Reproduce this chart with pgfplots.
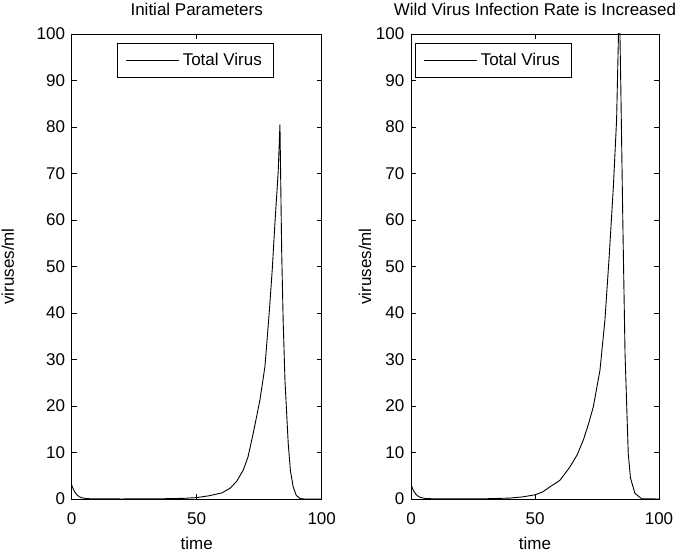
\documentclass[border=0pt]{standalone}
\usepackage{pgfplots}
\pgfplotsset{compat=1.18}
\usepackage{fontspec}
\setmainfont{Liberation Sans}
\begin{document}
\fontsize{17bp}{20bp}\selectfont
\begin{tikzpicture}
\useasboundingbox (0,0) rectangle (676bp,559bp);
\pgfplotsset{
  mstyle/.style={
    scale only axis,
    height=465bp,
    xmin=0, xmax=100, ymin=0, ymax=100,
    xtick={0,50,100}, ytick={0,10,...,100},
    tick align=inside,
    major tick length=5bp,
    axis line style={line width=0.8bp, black},
    every tick/.style={line width=0.8bp, black},
    /pgf/number format/assume math mode=true,
    tick label style={font=\fontsize{17bp}{20bp}\selectfont},
    xticklabel style={anchor=base, inner sep=0pt, yshift=-25bp},
    yticklabel style={anchor=east, inner sep=0pt, xshift=-6.5bp},
    title style={at={(0.5,1)}, anchor=base, inner sep=0pt, yshift=13bp, font=\fontsize{17bp}{20bp}\selectfont},
    xlabel style={at={(0.5,0)}, anchor=base, inner sep=0pt, yshift=-50bp, font=\fontsize{17bp}{20bp}\selectfont},
    ylabel style={at={(0,0.5)}, anchor=center, inner sep=0pt, font=\fontsize{17bp}{20bp}\selectfont},
    xlabel={time}, ylabel={viruses/ml},
    legend image code/.code={\draw[#1] (0bp,0bp) -- (53bp,0bp);},
    legend style={draw=black, line width=0.8bp, inner xsep=8.5bp, inner ysep=6.5bp,
      font=\fontsize{17bp}{20bp}\selectfont,
      nodes={inner sep=3bp}, anchor=north west},
    legend cell align=left,
  }
}
\begin{axis}[mstyle, at={(71.7bp,60bp)}, anchor=south west, width=250bp,
  title={Initial Parameters},
  ylabel style={yshift=64bp},
  legend style={at={(0.181,0.9806)}}]
\addplot[black, line width=0.9bp] coordinates {
(0,3.0) (0.5,2.3) (1,1.7) (2,0.95) (3,0.5) (4,0.27) (6,0.08) (10,0.02) (20,0.01)
(30,0.02) (40,0.08) (45,0.15) (50,0.3) (55,0.7) (60,1.3) (63.3,2.3) (66,3.8)
(68.6,6.2) (70.5,9.0) (72.6,14.1) (75.3,21.3) (77.3,28.5) (79,40) (80.2,49.2)
(81.3,59.4) (82.6,70.4) (83.3,80.5) (84,53) (84.6,38) (85.3,25.6) (86.6,12)
(87.5,6) (88.6,2.6) (89.8,0.8) (91.3,0.1) (93,0) (100,0)
};
\addlegendentry{Total Virus}
\end{axis}
\begin{axis}[mstyle, at={(411bp,60bp)}, anchor=south west, width=248bp,
  title={Wild Virus Infection Rate is Increased},
  ylabel style={yshift=46bp},
  legend style={at={(0.016,0.9806)}}]
\addplot[black, line width=0.9bp] coordinates {
(0,3.2) (0.5,2.4) (1,1.8) (2,1.0) (3,0.55) (4,0.3) (6,0.1) (10,0.03) (20,0.02)
(30,0.05) (40,0.2) (45,0.45) (50,0.9) (53,1.5) (56,2.6) (60,4.0) (64.1,6.9)
(67,9.5) (69.5,12.7) (71.5,16) (73.5,19.8) (76.2,27.7) (78.2,38.5) (80,52.9)
(81.6,67.2) (82.9,81.5) (83.5,96) (84,108) (84.6,88.7) (85.4,60) (86.3,31.3)
(87.6,9.8) (88.5,4.5) (90.3,1.2) (93,0.05) (100,0)
};
\addlegendentry{Total Virus}
\end{axis}
\end{tikzpicture}
\end{document}
